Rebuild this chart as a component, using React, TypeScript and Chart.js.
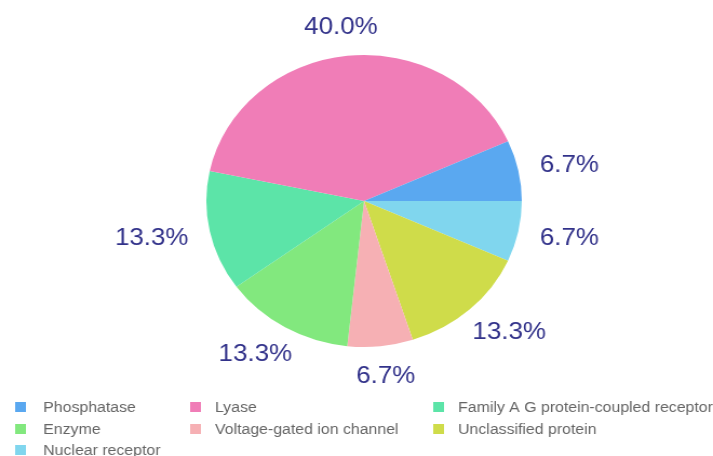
import React, { useEffect, useRef } from "react";
import { Chart, registerables } from "chart.js";

Chart.register(...registerables);

// Data (legend order, counter-clockwise from 3 o'clock in the picture)
const categories = [
  "Phosphatase",
  "Lyase",
  "Family A G protein-coupled receptor",
  "Enzyme",
  "Voltage-gated ion channel",
  "Unclassified protein",
  "Nuclear receptor",
];
const shares = [6.7, 40.0, 13.3, 13.3, 6.7, 13.3, 6.7];
const sliceColors = [
  "#5aa8f0",
  "#f07db7",
  "#5ce4a8",
  "#82e87e",
  "#f6b0b4",
  "#cfdc4a",
  "#80d6ee",
];

const CANVAS_W = 660;
const CANVAS_H = 456;

const outsideLabels = {
  id: "outsideLabels",
  afterDatasetsDraw(chart: any) {
    const ctx = chart.ctx;
    const meta = chart.getDatasetMeta(0);
    const values = chart.data.datasets[0].data;
    ctx.save();
    ctx.font = "24px 'Liberation Sans', Arial, sans-serif";
    ctx.fillStyle = "#32328a";
    ctx.textAlign = "center";
    ctx.textBaseline = "middle";
    meta.data.forEach((arc: any, i: number) => {
      const p = arc.getProps(["x", "y", "startAngle", "endAngle", "outerRadius"], true);
      const mid = (p.startAngle + p.endAngle) / 2;
      const c = Math.cos(mid);
      const s = Math.sin(mid);
      const text = Number(values[i]).toFixed(1) + "%";
      const w = ctx.measureText(text).width;
      const h = 17;
      const r0 = p.outerRadius + 21;
      const cx = p.x + c * r0 + (c * w) / 2;
      const cy = p.y + s * r0 + (s * h) / 2;
      ctx.fillText(text, cx, cy + 1);
    });
    ctx.restore();
  },
};

const gridLegend = {
  id: "gridLegend",
  afterDraw(chart: any) {
    const ctx = chart.ctx;
    const boxX = [14, 176, 401];
    const textX = [40, 199, 424];
    const rowY = [407, 429, 450];
    ctx.save();
    ctx.font = "14.7px 'Liberation Sans', Arial, sans-serif";
    ctx.textBaseline = "middle";
    ctx.textAlign = "left";
    categories.forEach((name, i) => {
      const col = i % 3;
      const row = Math.floor(i / 3);
      const y = rowY[row];
      ctx.fillStyle = sliceColors[i];
      ctx.fillRect(boxX[col], y - 5, 10, 10);
      ctx.fillStyle = "#656565";
      ctx.fillText(name, textX[col], y + 1);
    });
    ctx.restore();
  },
};

export default function App() {
  const ref = useRef<HTMLCanvasElement | null>(null);
  useEffect(() => {
    if (!ref.current) return;
    const chart = new Chart(ref.current, {
      type: "pie",
      data: {
        labels: [...categories].reverse(),
        datasets: [
          {
            data: [...shares].reverse(),
            backgroundColor: [...sliceColors].reverse(),
            borderWidth: 0,
            hoverOffset: 0,
            hoverBorderWidth: 0,
          },
        ],
      },
      options: {
        responsive: false,
        animation: false,
        rotation: 90,
        layout: { padding: { top: 55, bottom: 109, left: 14, right: 0 } },
        plugins: {
          legend: { display: false },
          tooltip: { enabled: false },
        },
      },
      plugins: [outsideLabels, gridLegend],
    });
    return () => chart.destroy();
  }, []);
  return (
    <div style={{ position: "fixed", left: 0, top: 0, width: 713, height: 456, background: "#fff" }}>
      <canvas
        ref={ref}
        width={CANVAS_W}
        height={CANVAS_H}
        style={{ display: "block", width: "713px", height: "456px" }}
      />
    </div>
  );
}
